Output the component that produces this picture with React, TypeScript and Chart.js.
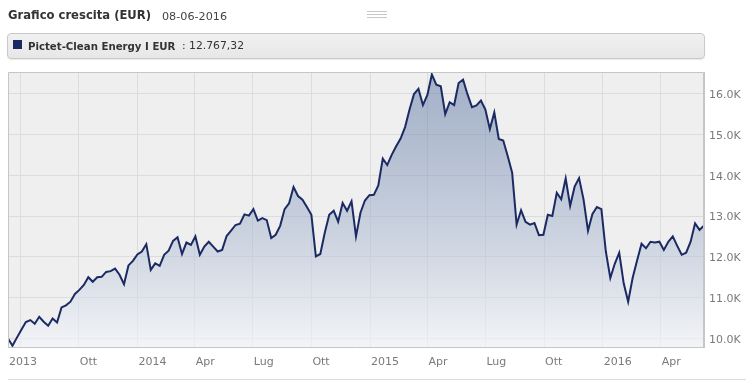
import React, { useEffect, useRef } from "react";
import { Chart, registerables } from "chart.js";

Chart.register(...registerables);

// ---- data (weekly NAV) ----
const START_DATE = "2013-06-12";
const WEEK_STEP_DAYS = 7;
const NAV_VALUES = [
  10000, 9820, 10020, 10210, 10400, 10450, 10360, 10530, 10410, 10310,
  10490, 10390, 10760, 10810, 10900, 11090, 11190, 11310, 11500, 11390,
  11500, 11510, 11630, 11650, 11710, 11560, 11330, 11790, 11900, 12060,
  12130, 12310, 11680, 11840, 11780, 12050, 12150, 12390, 12480, 12070,
  12350, 12290, 12500, 12050, 12250, 12370, 12250, 12130, 12170, 12510,
  12640, 12780, 12810, 13040, 13010, 13170, 12890, 12950, 12900, 12460,
  12540, 12760, 13170, 13310, 13710, 13490, 13400, 13220, 13030, 12010,
  12070, 12590, 13030, 13130, 12860, 13320, 13130, 13360, 12500, 13080,
  13380, 13510, 13520, 13750, 14410, 14250, 14500, 14710, 14900, 15180,
  15610, 15990, 16120, 15720, 15970, 16470, 16220, 16180, 15500, 15790,
  15720, 16260, 16340, 15980, 15670, 15710, 15830, 15610, 15130, 15540,
  14890, 14850, 14470, 14060, 12790, 13140, 12860, 12790, 12830, 12530,
  12540, 13030, 13000, 13570, 13410, 13920, 13250, 13720, 13930, 13410,
  12640, 13050, 13220, 13170, 12130, 11480, 11830, 12100, 11350, 10900,
  11480, 11910, 12320, 12210, 12370, 12350, 12370, 12170, 12370, 12500,
  12270, 12050, 12100, 12370, 12820, 12660, 12767.32,
];
const X_TICK_DATES = [
  "2013-07-01", "2013-10-01", "2014-01-01", "2014-04-01", "2014-07-01", "2014-10-01",
  "2015-01-01", "2015-04-01", "2015-07-01", "2015-10-01", "2016-01-01", "2016-04-01",
];
const X_TICK_LABELS = ["2013", "Ott", "2014", "Apr", "Lug", "Ott", "2015", "Apr", "Lug", "Ott", "2016", "Apr"];
const Y_TICKS = [10000, 11000, 12000, 13000, 14000, 15000, 16000];
const Y_MIN = 9790;
const Y_MAX = 16530;

const TITLE = "Grafico crescita (EUR)";
const DATE_LABEL = "08-06-2016";
const SERIES_NAME = "Pictet-Clean Energy I EUR";
const SERIES_LAST = ": 12.767,32";

const FONT = "'DejaVu Sans', Verdana, sans-serif";
const LINE_COLOR = "#1b2a63";

const dayOffset = (iso: string) =>
  Math.round((Date.parse(iso + "T00:00:00Z") - Date.parse(START_DATE + "T00:00:00Z")) / 86400000);

const tickDays = X_TICK_DATES.map(dayOffset);

export default function App() {
  const ref = useRef<HTMLCanvasElement | null>(null);

  useEffect(() => {
    const canvas = ref.current;
    if (!canvas) return;
    const points = NAV_VALUES.map((v, i) => ({ x: i * WEEK_STEP_DAYS, y: v }));
    const lastDay = (NAV_VALUES.length - 1) * WEEK_STEP_DAYS;

    const plotDecor = {
      id: "plotDecor",
      beforeDraw(chart: any) {
        const { ctx, chartArea: a } = chart;
        ctx.save();
        ctx.fillStyle = "#efefef";
        ctx.fillRect(a.left, a.top, a.right - a.left, a.bottom - a.top);
        ctx.restore();
      },
      afterDraw(chart: any) {
        const { ctx, chartArea: a } = chart;
        const xs = chart.scales.x;
        ctx.save();
        ctx.strokeStyle = "#c6c6c6";
        ctx.lineWidth = 1;
        ctx.beginPath();
        ctx.moveTo(a.left + 0.5, a.bottom);
        ctx.lineTo(a.left + 0.5, a.top + 0.5);
        ctx.lineTo(a.right - 0.5, a.top + 0.5);
        ctx.lineTo(a.right - 0.5, a.bottom);
        ctx.stroke();
        ctx.font = `11px ${FONT}`;
        ctx.fillStyle = "#7a7a7a";
        ctx.textBaseline = "alphabetic";
        ctx.textAlign = "left";
        X_TICK_LABELS.forEach((lab, i) => {
          const px = xs.getPixelForValue(tickDays[i]);
          const x = i === 0 ? a.left + 1 : px + 1;
          ctx.fillText(lab, x, a.bottom + 18);
        });
        ctx.restore();
      },
    };

    const chart = new Chart(canvas, {
      type: "line",
      data: {
        datasets: [
          {
            label: SERIES_NAME,
            data: points,
            borderColor: LINE_COLOR,
            borderWidth: 2,
            pointRadius: 0,
            tension: 0,
            fill: "start",
            backgroundColor: (c: any) => {
              const { chart: ch } = c;
              const area = ch.chartArea;
              if (!area) return "rgba(120,140,180,0.3)";
              const g = ch.ctx.createLinearGradient(0, area.top, 0, area.bottom);
              g.addColorStop(0, "rgba(70,100,150,0.45)");
              g.addColorStop(1, "rgba(245,247,252,0.6)");
              return g;
            },
          },
        ],
      },
      options: {
        responsive: false,
        animation: false,
        events: [],
        layout: { padding: { left: 8, top: 72, right: 0, bottom: 0 } },
        plugins: { legend: { display: false }, tooltip: { enabled: false }, title: { display: false } },
        scales: {
          x: {
            type: "linear",
            min: 0,
            max: lastDay,
            position: "bottom",
            afterBuildTicks: (s: any) => {
              s.ticks = tickDays.map((v) => ({ value: v }));
            },
            afterFit: (s: any) => {
              s.height = 39;
            },
            ticks: { display: false },
            grid: { color: "#dcdcdc", drawTicks: false, lineWidth: 1 },
            border: { display: true, color: "#c6c6c6" },
          },
          y: {
            type: "linear",
            position: "right",
            min: Y_MIN,
            max: Y_MAX,
            afterBuildTicks: (s: any) => {
              s.ticks = Y_TICKS.map((v) => ({ value: v }));
            },
            afterFit: (s: any) => {
              s.width = 50;
            },
            ticks: {
              padding: 5,
              labelOffset: 1.5,
              color: "#7a7a7a",
              font: { family: FONT, size: 11 },
              callback: (v: any) => (Number(v) / 1000).toFixed(1) + "K",
            },
            grid: { color: "#dcdcdc", drawTicks: false, lineWidth: 1 },
            border: { display: true, color: "#c6c6c6" },
          },
        },
      },
      plugins: [plotDecor],
    } as any);

    return () => chart.destroy();
  }, []);

  const abs = (s: React.CSSProperties): React.CSSProperties => ({ position: "absolute", ...s });

  return (
    <div style={{ position: "fixed", left: 0, top: 0, width: 754, height: 386, background: "#fff", fontFamily: FONT, overflow: "hidden" }}>
      <canvas ref={ref} width={754} height={386} style={abs({ left: 0, top: 0, width: 754, height: 386 })} />
      <span style={abs({ left: 8, top: 10.2, fontSize: 11.6, lineHeight: 1, fontWeight: "bold", color: "#333", whiteSpace: "nowrap" })}>
        {TITLE}
      </span>
      <span style={abs({ left: 162, top: 10.5, fontSize: 11.2, lineHeight: 1, color: "#444", whiteSpace: "nowrap" })}>
        {DATE_LABEL}
      </span>
      <div style={abs({ left: 367, top: 11, width: 20, height: 1, background: "#c8c8c8" })} />
      <div style={abs({ left: 367, top: 14, width: 20, height: 1, background: "#c8c8c8" })} />
      <div style={abs({ left: 367, top: 17, width: 20, height: 1, background: "#c8c8c8" })} />
      <div
        style={abs({
          left: 7,
          top: 33,
          width: 698,
          height: 26,
          boxSizing: "border-box",
          border: "1px solid #c9c9c9",
          borderRadius: 4,
          background: "linear-gradient(#f0f0f0, #e7e7e7)",
          boxShadow: "0 1px 1px rgba(0,0,0,0.08)",
        })}
      >
        <div style={abs({ left: 5, top: 6, width: 9, height: 9, background: LINE_COLOR })} />
        <span style={abs({ left: 20, top: 7.6, fontSize: 10.2, lineHeight: 1, fontWeight: "bold", color: "#333", whiteSpace: "nowrap" })}>
          {SERIES_NAME}
        </span>
        <span style={abs({ left: 174, top: 7.2, fontSize: 10.8, lineHeight: 1, color: "#333", whiteSpace: "nowrap" })}>
          {SERIES_LAST}
        </span>
      </div>
      <div style={abs({ left: 8, top: 379, width: 738, height: 1, background: "#dcdcdc" })} />
    </div>
  );
}
